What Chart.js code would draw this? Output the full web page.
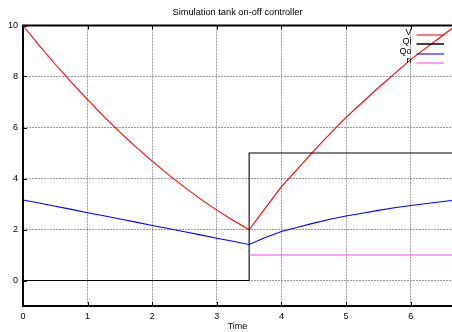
<!DOCTYPE html>
<html>
<head>
<meta charset="utf-8">
<script src="https://cdn.jsdelivr.net/npm/chart.js@4/dist/chart.umd.min.js"></script>
<style>
  html, body { margin: 0; padding: 0; background: #fff; overflow: hidden; }
  #wrap { width: 452px; height: 332px; }
</style>
</head>
<body>
<div id="wrap"><canvas id="c" width="452" height="332"></canvas></div>
<script>
// ---- data ----
const titleText = 'Simulation tank on-off controller';
const xTitle = 'Time';
const time = [0, 0.25, 0.5, 0.75, 1, 1.25, 1.5, 1.75, 2, 2.25, 2.5, 2.75, 3, 3.25, 3.5,
              3.75, 4, 4.25, 4.5, 4.75, 5, 5.25, 5.5, 5.75, 6, 6.25, 6.5, 6.64];
const V  = [10, 9.22, 8.48, 7.77, 7.09, 6.44, 5.82, 5.23, 4.68, 4.15, 3.66, 3.19, 2.76, 2.36, 1.99,
            2.84, 3.68, 4.38, 5.08, 5.75, 6.40, 6.98, 7.56, 8.11, 8.66, 9.14, 9.62, 9.88];
const Qo = [3.16, 3.04, 2.91, 2.79, 2.66, 2.54, 2.41, 2.29, 2.16, 2.04, 1.91, 1.79, 1.66, 1.54, 1.41,
            1.69, 1.92, 2.09, 2.25, 2.40, 2.53, 2.64, 2.75, 2.85, 2.94, 3.02, 3.10, 3.14];
const qiTime = [0, 3.5, 3.5, 6.64];
const Qi     = [0, 0, 5, 5];
const nTime  = [3.5, 6.64];
const n      = [1, 1];
const xTicks = [0, 1, 2, 3, 4, 5, 6];
const yTicks = [0, 2, 4, 6, 8, 10];
const seriesNames = ['V', 'Qi', 'Qo', 'n'];
const seriesColors = ['#ff0000', '#000000', '#0000ff', '#ff40ff'];

const pts = (xs, ys) => xs.map((x, i) => ({ x: x, y: ys[i] }));
const FONT = '"Liberation Sans", Arial, Helvetica, sans-serif';

const gnuFrame = {
  id: 'gnuFrame',
  beforeDatasetsDraw(chart) {
    const ctx = chart.ctx, ca = chart.chartArea;
    const xs = chart.scales.x, ys = chart.scales.y;
    ctx.save();
    ctx.strokeStyle = '#000';
    ctx.lineWidth = 1;
    ctx.beginPath();
    xTicks.forEach(v => {
      const px = Math.round(xs.getPixelForValue(v)) + 0.5;
      ctx.moveTo(px, ca.bottom); ctx.lineTo(px, ca.bottom - 4);
      ctx.moveTo(px, ca.top); ctx.lineTo(px, ca.top + 4);
    });
    yTicks.forEach(v => {
      const py = Math.round(ys.getPixelForValue(v)) + 0.5;
      ctx.moveTo(ca.left, py); ctx.lineTo(ca.left + 4, py);
    });
    ctx.stroke();
    ctx.lineWidth = 2;
    ctx.beginPath();
    ctx.moveTo(ca.right + 2, ca.top);
    ctx.lineTo(ca.left, ca.top);
    ctx.lineTo(ca.left, ca.bottom);
    ctx.lineTo(ca.right + 2, ca.bottom);
    ctx.stroke();
    ctx.restore();
  },
  afterDatasetsDraw(chart) {
    const ctx = chart.ctx;
    ctx.save();
    ctx.font = '9px ' + FONT;
    ctx.textAlign = 'right';
    ctx.textBaseline = 'alphabetic';
    seriesNames.forEach((name, i) => {
      const y = 34.5 + i * 9.5;
      ctx.fillStyle = '#000';
      ctx.fillText(name, 411.5, y);
      ctx.strokeStyle = seriesColors[i];
      ctx.globalAlpha = i === 1 ? 1 : 0.7;
      ctx.lineWidth = 1.5;
      ctx.beginPath();
      ctx.moveTo(416.5, Math.round(y));
      ctx.lineTo(444, Math.round(y));
      ctx.stroke();
      ctx.globalAlpha = 1;
    });
    ctx.restore();
  }
};

const mk = (label, data, color, order) => ({
  label, data, borderColor: color, backgroundColor: color,
  borderWidth: 1.1, pointRadius: 0, tension: 0, fill: false, order
});

new Chart(document.getElementById('c'), {
  type: 'line',
  data: {
    datasets: [
      mk(seriesNames[0], pts(time, V), seriesColors[0], 4),
      mk(seriesNames[1], pts(qiTime, Qi), seriesColors[1], 3),
      mk(seriesNames[2], pts(time, Qo), seriesColors[2], 2),
      mk(seriesNames[3], pts(nTime, n), seriesColors[3], 1)
    ]
  },
  options: {
    responsive: false,
    animation: false,
    devicePixelRatio: 1,
    layout: { padding: { left: 0, right: 0, top: 0, bottom: 0 } },
    plugins: {
      legend: { display: false },
      tooltip: { enabled: false },
      title: {
        display: true, text: titleText, fullSize: false, color: '#000',
        font: { family: FONT, size: 9.25, weight: 'normal', lineHeight: 1.2 },
        padding: { top: 7, bottom: 7.4 }
      }
    },
    scales: {
      x: {
        type: 'linear', min: 0, max: 6.64,
        afterBuildTicks: s => { s.ticks = xTicks.map(v => ({ value: v })); },
        afterFit: s => { s.height = 26; },
        ticks: { color: '#000', padding: 5, font: { family: FONT, size: 9 }, maxRotation: 0, autoSkip: false },
        grid: { color: '#999999', drawTicks: false, lineWidth: 1 },
        border: { display: false, dash: [2, 1] },
        title: { display: true, text: xTitle, color: '#000', padding: { top: 0, bottom: 0 },
                 font: { family: FONT, size: 9, lineHeight: 1.2 } }
      },
      y: {
        type: 'linear', min: -1, max: 10,
        afterBuildTicks: s => { s.ticks = yTicks.map(v => ({ value: v })); },
        afterFit: s => { s.width = 23; },
        ticks: { color: '#000', padding: 5, font: { family: FONT, size: 9 }, autoSkip: false },
        grid: { color: '#999999', drawTicks: false, lineWidth: 1 },
        border: { display: false, dash: [2, 1] }
      }
    }
  },
  plugins: [gnuFrame]
});
</script>
</body>
</html>
